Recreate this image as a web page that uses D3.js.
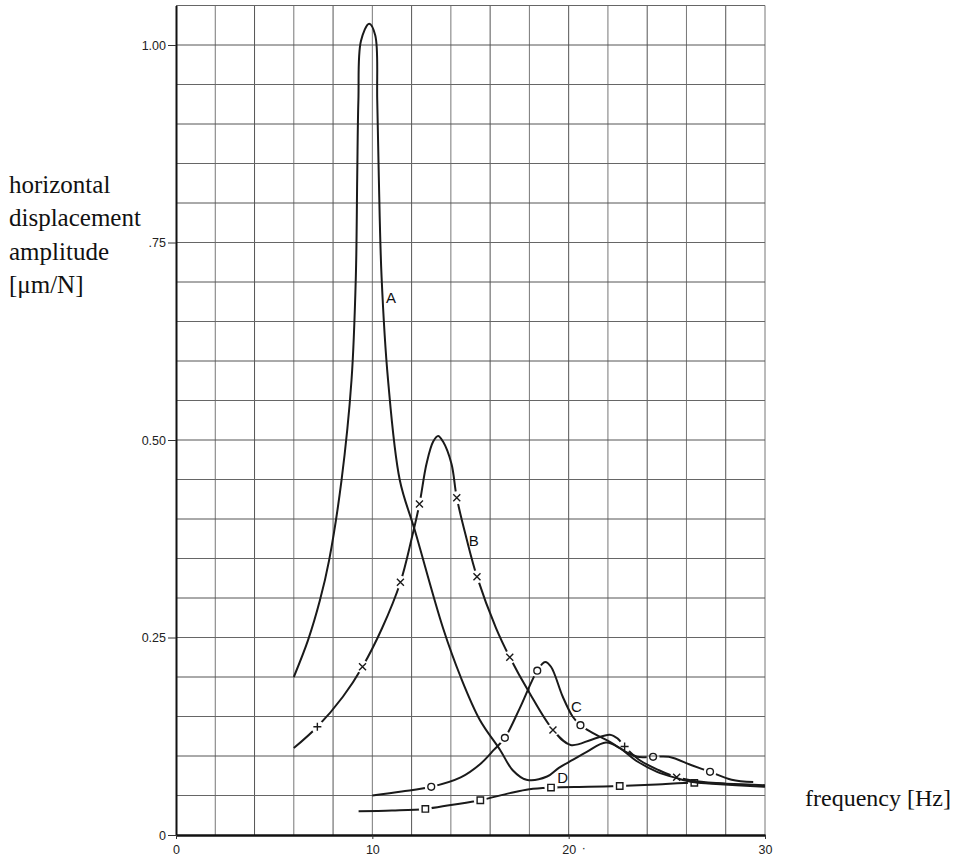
<!DOCTYPE html>
<html>
<head>
<meta charset="utf-8">
<script src="https://cdn.jsdelivr.net/npm/d3@7"></script>
<style>
  body { margin: 0; background: #fff; }
  svg { display: block; }
  .tick-label { font-family: "Liberation Sans", Arial, sans-serif; font-size: 12px; fill: #222; }
  .axis-title { font-family: "Liberation Serif", "Times New Roman", serif; font-size: 25px; fill: #111; }
  .curve { fill: none; stroke: #1a1a1a; stroke-width: 2; }
  .marker { fill: none; stroke: #1a1a1a; stroke-width: 1.4; }
  .curve-label { font-family: "Liberation Sans", Arial, sans-serif; font-size: 15px; fill: #111; }
</style>
</head>
<body>
<svg id="chart" width="968" height="856"></svg>
<script>
// frequency [Hz], amplitude [um/N]
var curveA = [[6, 0.20], [6.73, 0.247], [7.33, 0.297], [7.8, 0.348], [8.43, 0.449], [8.94, 0.576],
  [9.16, 0.707], [9.23, 0.833], [9.29, 0.930], [9.42, 1.005], [9.84, 1.027],
  [10.15, 1.012], [10.25, 0.930], [10.33, 0.833], [10.47, 0.707], [10.8, 0.576],
  [11.4, 0.449], [12.16, 0.386], [13.6, 0.262], [14.5, 0.200], [15.47, 0.146], [16.5, 0.108],
  [17.15, 0.082], [17.85, 0.070], [18.9, 0.074], [19.5, 0.085], [20.2, 0.095], [20.9, 0.105],
  [21.9, 0.117], [22.6, 0.110], [23.5, 0.093], [24.5, 0.080], [25.5, 0.072], [26.3, 0.067],
  [27.3, 0.065], [30, 0.061]];

var curveB = [[6.0, 0.110], [7.2, 0.137], [8.5, 0.175], [9.5, 0.213], [10.5, 0.262], [11.43, 0.320],
  [12.0, 0.375], [12.4, 0.419], [12.76, 0.470], [13.1, 0.498], [13.35, 0.505], [13.6, 0.498],
  [14.03, 0.470], [14.3, 0.427], [14.8, 0.375], [15.33, 0.327], [16.3, 0.262], [17.0, 0.225],
  [18.0, 0.180], [19.2, 0.133], [20.1, 0.114], [21.2, 0.121], [22.1, 0.127], [22.5, 0.122],
  [22.85, 0.112], [23.6, 0.095], [24.6, 0.082], [25.5, 0.073], [26.5, 0.068], [28, 0.065]];

var curveC = [[10.0, 0.050], [11.5, 0.055], [13.0, 0.061], [14.5, 0.073], [15.5, 0.090], [16.2, 0.108],
  [16.75, 0.123], [17.5, 0.160], [18.4, 0.208], [18.8, 0.219], [19.1, 0.213], [19.7, 0.175],
  [20.2, 0.150], [20.6, 0.139], [21.24, 0.129], [22.1, 0.118], [22.94, 0.105], [23.5, 0.099],
  [24.3, 0.099], [25.1, 0.099], [26.3, 0.088], [27.2, 0.080], [28.3, 0.070], [29.4, 0.067]];

var curveD = [[9.3, 0.030], [11, 0.031], [12.7, 0.033], [14, 0.038], [15.5, 0.044], [17, 0.053],
  [18, 0.058], [19.1, 0.060], [21, 0.061], [22.6, 0.062], [24.5, 0.064], [26.4, 0.066],
  [28, 0.065], [30, 0.063]];

var markersB = [[7.2, 0.137, "+"], [9.5, 0.213, "x"], [11.43, 0.320, "x"], [12.4, 0.419, "x"],
  [14.3, 0.427, "x"], [15.33, 0.327, "x"], [17.0, 0.225, "x"], [19.2, 0.133, "x"],
  [22.85, 0.112, "+"], [25.5, 0.073, "x"]];
var markersC = [[13.0, 0.061, "o"], [16.75, 0.123, "o"], [18.4, 0.208, "o"], [20.6, 0.139, "o"],
  [24.3, 0.099, "o"], [27.2, 0.080, "o"]];
var markersD = [[12.7, 0.033, "s"], [15.5, 0.044, "s"], [19.1, 0.060, "s"], [22.6, 0.062, "s"],
  [26.4, 0.066, "s"]];

var curveLabels = [["A", 10.95, 0.68], ["B", 15.17, 0.373], ["C", 20.4, 0.162], ["D", 19.7, 0.073]];

var xTickValues = [0, 10, 20, 30];
var xTickLabels = ["0", "10", "20", "30"];
var yTickValues = [0, 0.25, 0.5, 0.75, 1.0];
var yTickLabels = ["0", "0.25", "0.50", ".75", "1.00"];
var yTitleLines = ["horizontal", "displacement", "amplitude", "[\u03bcm/N]"];

(function() {
  var svg = d3.select("#chart");
  var x = d3.scaleLinear().domain([0, 30]).range([176, 765]);
  var y = d3.scaleLinear().domain([0, 1.05]).range([835, 5.5]);

  drawGrid();
  drawAxes();
  drawSeries("A", curveA, []);
  drawSeries("B", curveB, markersB);
  drawSeries("C", curveC, markersC);
  drawSeries("D", curveD, markersD);
  drawLabels();

  function drawGrid() {
    var g = svg.append("g").attr("class", "grid");
    g.selectAll(".vline")
      .data(d3.range(2, 31, 2))
      .enter().append("line")
        .attr("x1", function(d) { return x(d); })
        .attr("x2", function(d) { return x(d); })
        .attr("y1", y(0)).attr("y2", y(1.05))
        .attr("stroke", function(d) { return d % 4 === 0 ? "#555" : "#777"; })
        .attr("stroke-width", 1);
    g.selectAll(".hline")
      .data(d3.range(1, 22).map(function(i) { return i * 0.05; }))
      .enter().append("line")
        .attr("x1", x(0)).attr("x2", x(30))
        .attr("y1", function(d) { return y(d); })
        .attr("y2", function(d) { return y(d); })
        .attr("stroke", function(d, i) { return i % 2 === 0 ? "#666" : "#555"; })
        .attr("stroke-width", 1);
  }

  function styleTicks(axisG) {
    axisG.selectAll(".tick line").attr("stroke", "#333");
    axisG.selectAll(".tick text")
      .attr("font-size", null).attr("font-family", null)
      .style("font-family", "'Liberation Sans', Arial, sans-serif")
      .style("font-size", "12.5px")
      .style("fill", "#222");
  }

  function drawAxes() {
    var yAxis = svg.append("g")
      .attr("transform", "translate(" + x(0) + ",0)")
      .call(d3.axisLeft(y).tickValues(yTickValues)
        .tickFormat(function(d, i) { return yTickLabels[i]; })
        .tickSize(8).tickSizeOuter(0).tickPadding(2));
    yAxis.select(".domain").attr("stroke", "#111").attr("stroke-width", 2);
    styleTicks(yAxis);

    var xAxis = svg.append("g")
      .attr("transform", "translate(0," + y(0) + ")")
      .call(d3.axisBottom(x).tickValues(xTickValues)
        .tickFormat(function(d, i) { return xTickLabels[i]; })
        .tickSize(4).tickSizeOuter(0).tickPadding(6));
    xAxis.select(".domain").attr("stroke", "#111").attr("stroke-width", 2.5);
    styleTicks(xAxis);

    svg.append("text")
      .attr("class", "tick-label")
      .attr("x", x(20) + 13).attr("y", y(0) + 17)
      .text("\u00b7");

    svg.append("g").selectAll("text")
      .data(yTitleLines)
      .enter().append("text")
        .attr("class", "axis-title")
        .attr("x", 9)
        .attr("y", function(d, i) { return 193 + i * 33.4; })
        .text(function(d) { return d; });

    svg.append("text")
      .attr("class", "axis-title")
      .attr("x", 805).attr("y", 806)
      .style("font-size", "24px")
      .text("frequency [Hz]");
  }

  function drawSeries(name, points, markers) {
    var line = d3.line()
      .x(function(d) { return x(d[0]); })
      .y(function(d) { return y(d[1]); })
      .curve(d3.curveCatmullRom.alpha(0.5));

    var mask = svg.append("defs").append("mask")
      .attr("id", "gap-" + name)
      .attr("maskUnits", "userSpaceOnUse")
      .attr("x", 0).attr("y", 0).attr("width", 968).attr("height", 856);
    mask.append("rect").attr("width", 968).attr("height", 856).attr("fill", "#fff");
    mask.selectAll("circle")
      .data(markers)
      .enter().append("circle")
        .attr("cx", function(d) { return x(d[0]); })
        .attr("cy", function(d) { return y(d[1]); })
        .attr("r", 6.5)
        .attr("fill", "#000");

    svg.append("path")
      .datum(points)
      .attr("class", "curve")
      .attr("mask", "url(#gap-" + name + ")")
      .attr("d", line);

    var symbols = {
      "+": "M-4,0H4M0,-4V4",
      "x": "M-3.5,-3.5L3.5,3.5M-3.5,3.5L3.5,-3.5",
      "s": "M-3.2,-3.2H3.2V3.2H-3.2Z"
    };
    var m = svg.append("g").selectAll(".marker")
      .data(markers)
      .enter().append("g")
        .attr("transform", function(d) { return "translate(" + x(d[0]) + "," + y(d[1]) + ")"; });
    m.filter(function(d) { return d[2] === "o"; })
      .append("circle").attr("class", "marker").attr("r", 3.4);
    m.filter(function(d) { return d[2] !== "o"; })
      .append("path").attr("class", "marker").attr("d", function(d) { return symbols[d[2]]; });
  }

  function drawLabels() {
    svg.append("g").selectAll("text")
      .data(curveLabels)
      .enter().append("text")
        .attr("class", "curve-label")
        .attr("x", function(d) { return x(d[1]); })
        .attr("y", function(d) { return y(d[2]); })
        .attr("dy", "0.35em")
        .attr("text-anchor", "middle")
        .text(function(d) { return d[0]; });
  }
})();
</script>
</body>
</html>
